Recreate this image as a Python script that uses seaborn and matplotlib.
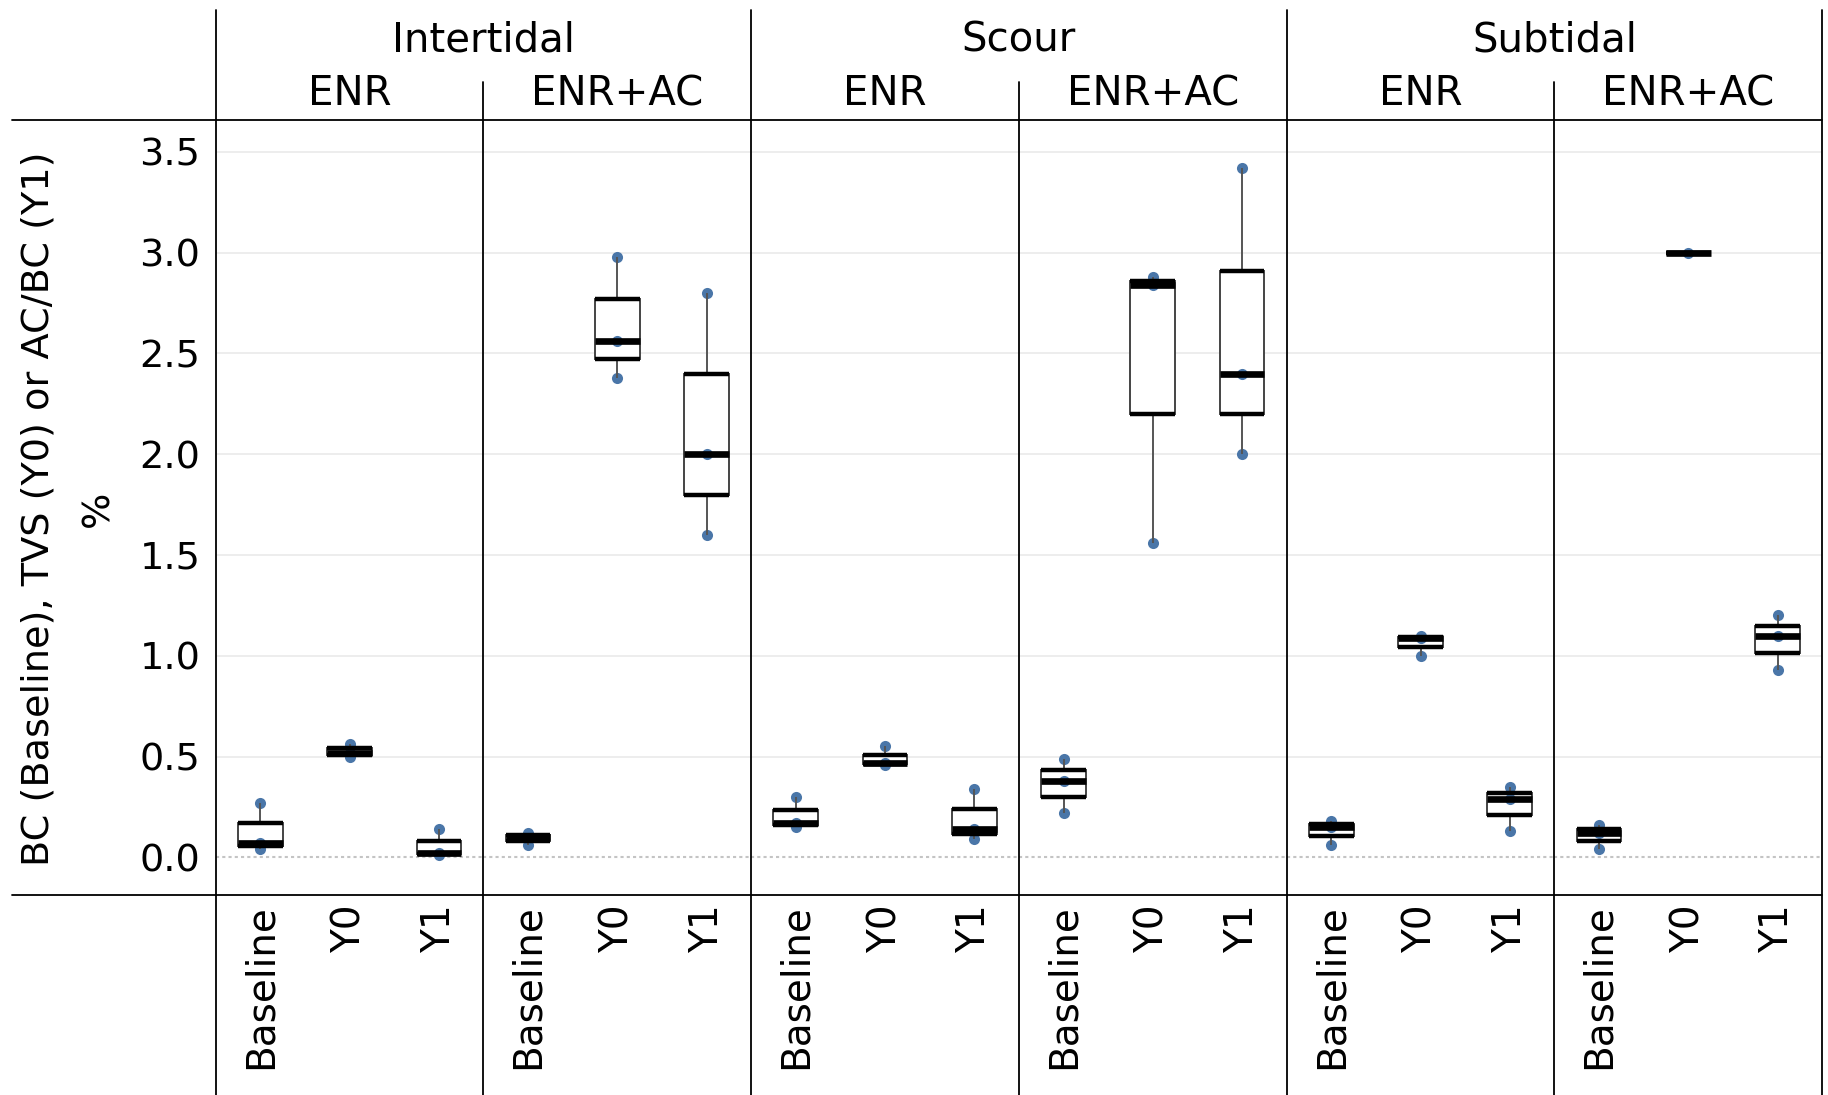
import numpy as np
import pandas as pd
import matplotlib
matplotlib.use('Agg')
import matplotlib.pyplot as plt
from matplotlib.lines import Line2D
import seaborn as sns

# categories
sites = ['Intertidal', 'Scour', 'Subtidal']
treatments = ['ENR', 'ENR+AC']
periods = ['Baseline', 'Y0', 'Y1']

# observed values per panel: Baseline, Y0, Y1
intertidal_enr = [[0.04, 0.07, 0.27], [0.50, 0.52, 0.56], [0.01, 0.02, 0.14]]
intertidal_enr_ac = [[0.06, 0.10, 0.12], [2.38, 2.56, 2.98], [1.60, 2.00, 2.80]]
scour_enr = [[0.15, 0.17, 0.30], [0.46, 0.47, 0.55], [0.09, 0.14, 0.34]]
scour_enr_ac = [[0.22, 0.38, 0.49], [1.56, 2.84, 2.88], [2.00, 2.40, 3.42]]
subtidal_enr = [[0.06, 0.15, 0.18], [1.00, 1.09, 1.10], [0.13, 0.29, 0.35]]
subtidal_enr_ac = [[0.04, 0.12, 0.16], [3.00], [0.93, 1.10, 1.20]]

y_ticks = [0.0, 0.5, 1.0, 1.5, 2.0, 2.5, 3.0, 3.5]
y_label = 'BC (Baseline), TVS (Y0) or AC/BC (Y1)'

panel_values = {
    ('Intertidal', 'ENR'): intertidal_enr,
    ('Intertidal', 'ENR+AC'): intertidal_enr_ac,
    ('Scour', 'ENR'): scour_enr,
    ('Scour', 'ENR+AC'): scour_enr_ac,
    ('Subtidal', 'ENR'): subtidal_enr,
    ('Subtidal', 'ENR+AC'): subtidal_enr_ac,
}

rows = []
for (site, trt), groups in panel_values.items():
    for period, vals in zip(periods, groups):
        for v in vals:
            rows.append({'site': site, 'treatment': trt, 'period': period, 'value': v})
df = pd.DataFrame(rows)

sns.set_style('white')
plt.rcParams['font.family'] = ['DejaVu Sans']
plt.rcParams['text.color'] = 'black'
plt.rcParams['xtick.labelcolor'] = 'black'
plt.rcParams['ytick.labelcolor'] = 'black'

fig = plt.figure(figsize=(18.28, 10.95), dpi=100)

left, right = 0.118, 0.9968
bottom, top = 0.183, 0.890
pw = (right - left) / 6
point_color = '#4a76a8'

k = 0
for site in sites:
    for trt in treatments:
        ax = fig.add_axes([left + k * pw, bottom, pw, top - bottom])
        sub = df[(df['site'] == site) & (df['treatment'] == trt)]
        sns.boxplot(data=sub, x='period', y='value', order=periods, ax=ax,
                    width=0.5, whis=(0, 100), showcaps=False, fliersize=0,
                    color='white', linecolor='#444444', linewidth=1.4,
                    medianprops=dict(color='black', linewidth=4.8),
                    whiskerprops=dict(color='#555555', linewidth=1.4))
        # heavy quartile edges like the original
        for i, p in enumerate(periods):
            v = sub.loc[sub['period'] == p, 'value']
            q1, q3 = np.percentile(v, [25, 75])
            ax.hlines([q1, q3], i - 0.25, i + 0.25, color='black', lw=3.2)
        sns.stripplot(data=sub, x='period', y='value', order=periods, ax=ax,
                      jitter=False, color=point_color, size=8, zorder=2.5)
        # box lines sit on top of the points
        for ln in ax.lines:
            ln.set_zorder(3)
        for coll in ax.collections:
            if coll.__class__.__name__ == 'LineCollection':
                coll.set_zorder(3)

        for t in y_ticks[1:]:
            ax.axhline(t, color='#ececec', lw=1.3, zorder=0)
        ax.axhline(0, color='#c4c4c4', lw=1.5, ls=(0, (1.5, 1.5)), zorder=0)

        ax.set_ylim(-0.185, 3.656)
        ax.set_xlim(-0.5, 2.5)
        ax.set_yticks(y_ticks)
        ax.set_xlabel('')
        ax.set_ylabel('')
        for s in ax.spines.values():
            s.set_visible(False)
        ax.tick_params(axis='both', length=0)
        ax.tick_params(axis='x', labelsize=28, labelrotation=90, pad=7)
        if k == 0:
            ax.set_yticklabels([f'{t:.1f}' for t in y_ticks])
            ax.tick_params(axis='y', labelsize=27.5, pad=11)
        else:
            ax.set_yticklabels([])
        k += 1

# facet header texts
for j, site in enumerate(sites):
    cx = left + (2 * j + 1) * pw
    fig.text(cx, 0.963, site, ha='center', va='center', fontsize=29)
    for m, trt in enumerate(treatments):
        fig.text(left + (2 * j + m + 0.5) * pw, 0.914, trt,
                 ha='center', va='center', fontsize=29)

# frame lines
lw = 1.3
for j in range(7):
    x = left + j * pw
    y1 = 0.991 if j % 2 == 0 else 0.9255
    fig.add_artist(Line2D([x, x], [0, y1], transform=fig.transFigure,
                          color='black', lw=lw))
for y in (top, bottom):
    fig.add_artist(Line2D([0.0064, right], [y, y], transform=fig.transFigure,
                          color='black', lw=lw))

fig.text(0.021, 0.535, y_label, rotation=90, ha='center', va='center', fontsize=27.5)
fig.text(0.054, 0.535, '%', rotation=90, ha='center', va='center', fontsize=27.5)

fig.savefig('out.png', dpi=100)
